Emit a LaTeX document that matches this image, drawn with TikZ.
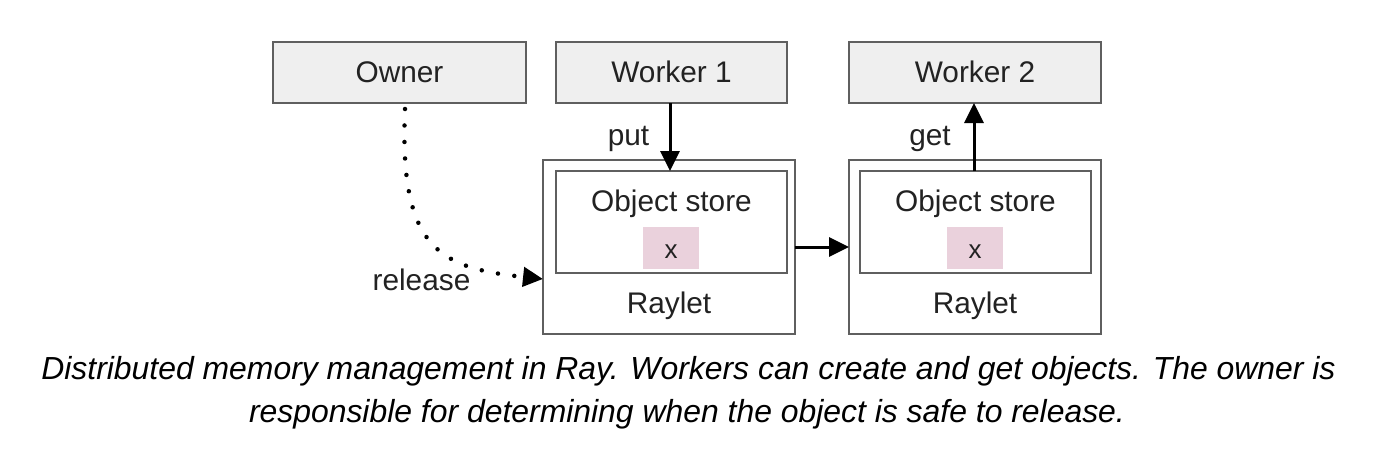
\documentclass[tikz,border=0pt]{standalone}
\usepackage{fontspec}
\setmainfont{Liberation Sans}
\usetikzlibrary{arrows.meta}
\definecolor{boxgray}{HTML}{EFEFEF}
\definecolor{edgegray}{HTML}{5F5F5F}
\definecolor{pinkx}{HTML}{EAD1DC}
\definecolor{txt}{HTML}{222222}
\tikzset{
  wbox/.style={draw=edgegray, line width=2pt, fill=boxgray},
  plain/.style={draw=edgegray, line width=2pt, fill=white},
  xbox/.style={fill=pinkx},
  lbl/.style={anchor=base, inner sep=0pt, text=txt, font=\fontsize{29.8}{32}\selectfont},
  xlbl/.style={anchor=base, inner sep=0pt, text=txt, font=\fontsize{26}{28}\selectfont},
  captext/.style={anchor=base, inner sep=0pt, text=black, font=\fontsize{31.9}{34}\selectfont\itshape},
  conn/.style={line width=3pt, -{Triangle[length=20pt,width=19pt]}},
  dotconn/.style={line width=4.5pt, line cap=round, dash pattern=on 0pt off 16.5pt, -{Triangle[length=20pt,width=19pt]}}
}
\begin{document}
\begin{tikzpicture}[x=1pt,y=-1pt]
\useasboundingbox (0,0) rectangle (1389,455);
% top boxes
\draw[wbox] (273,42) rectangle (526,103);
\draw[wbox] (556,42) rectangle (787,103);
\draw[wbox] (849,42) rectangle (1101,103);
\node[lbl] (owner) at (399.5,82) {Owner};
\node[lbl] (w1) at (671.5,82) {Worker 1};
\node[lbl] (w2) at (975,82) {Worker 2};
% raylets
\draw[plain] (543,160) rectangle (795,334);
\draw[plain] (556,171) rectangle (787,273);
\draw[plain] (849,160) rectangle (1101,334);
\draw[plain] (860,171) rectangle (1091,273);
\fill[xbox] (643,227) rectangle (699,269);
\fill[xbox] (947,227) rectangle (1003,269);
\node[lbl] (os1) at (671.5,211.5) {Object store};
\node[lbl] (os2) at (975.5,211.5) {Object store};
\node[xlbl] (x1) at (671,258) {x};
\node[xlbl] (x2) at (975,258) {x};
\node[lbl] (r1) at (669,313) {Raylet};
\node[lbl] (r2) at (975,313) {Raylet};
% coordinates for connectors
\coordinate (w1b) at (670,103);
\coordinate (os1t) at (670,171);
\coordinate (os2t) at (974,171);
\coordinate (w2b) at (974,103);
\coordinate (r1e) at (795,247);
\coordinate (r2w) at (849,247);
\coordinate (ownb) at (405,109);
\coordinate (r1w) at (543,279);
\draw[conn] (w1b) -- (os1t);
\draw[conn] (os2t) -- (w2b);
\draw[conn] (r1e) -- (r2w);
\draw[dotconn] (ownb) .. controls (399,250) and (440,268) .. (r1w);
\node[lbl] (put) at (628.5,145) {put};
\node[lbl] (get) at (930,145) {get};
\node[lbl] (rel) at (421.5,290) {release};
% caption
\node[captext] (c1) at (688.5,379) {Distributed memory management in Ray. Workers can create and get objects. The owner is};
\node[captext] (c2) at (687,422) {responsible for determining when the object is safe to release.};
\end{tikzpicture}
\end{document}
